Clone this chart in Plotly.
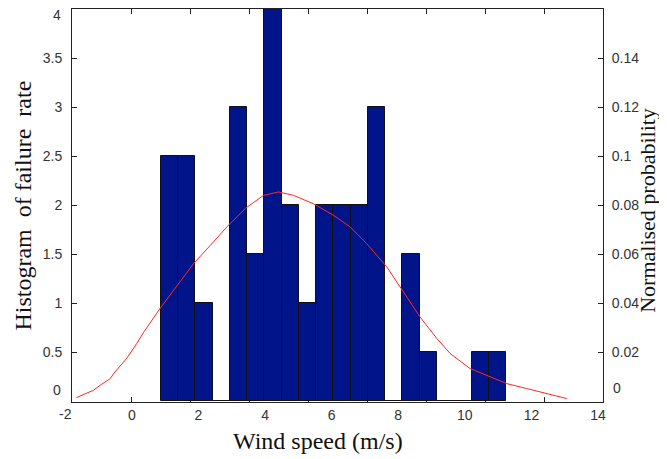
import plotly.graph_objects as go

# Histogram of failure rate (left axis)
bin_centers = [1.130, 1.648, 2.167, 2.685, 3.203, 3.722, 4.240, 4.758, 5.277, 5.795,
               6.313, 6.831, 7.350, 7.868, 8.386, 8.905, 9.423, 9.941, 10.460, 10.978]
failure_rate = [2.5, 2.5, 1, 0, 3, 1.5, 4, 2, 1, 2,
                2, 2, 3, 0, 1.5, 0.5, 0, 0, 0.5, 0.5]
bin_width = 0.5183

# Normalised probability curve (right axis, second x-scale)
curve_x = [-1.85, -1.49, -1.27, -1.04, -0.70, -0.59, -0.14, 0.20, 0.43, 1.02, 1.56, 2.12,
           2.69, 3.25, 3.87, 4.49, 5.00, 5.51, 6.18, 6.86, 7.43, 7.99, 8.67, 9.12, 9.80,
           10.37, 10.82, 11.49, 12.17, 12.74, 13.41, 13.98, 14.77]
curve_y = [0.0014, 0.0033, 0.0044, 0.0065, 0.0092, 0.0112, 0.0175, 0.0236, 0.0281, 0.0384,
           0.0473, 0.0561, 0.0636, 0.0711, 0.0786, 0.0840, 0.0854, 0.0840, 0.0806, 0.0759,
           0.0711, 0.0643, 0.0548, 0.0466, 0.0343, 0.0255, 0.0194, 0.0133, 0.0098, 0.0071,
           0.0051, 0.0033, 0.0010]

x_tickvals = [0, 2, 4, 6, 8, 10, 12, 14]
x_ticktext = ["0", "2", "4", "6", "8", "10", "12", "14"]
x_outside_label = "-2"
x_outside_val = -2
y1_tickvals = [0, 0.5, 1, 1.5, 2, 2.5, 3, 3.5, 4]
y1_ticktext = ["0", "0.5", "1", "1.5", "2", "2.5", "3", "3.5", "4"]
y2_tickvals = [0, 0.02, 0.04, 0.06, 0.08, 0.10, 0.12, 0.14]
y2_ticktext = ["0", "0.02", "0.04", "0.06", "0.08", "0.1", "0.12", "0.14"]
x2_tickvals = [0, 2, 4, 6, 8, 10, 12, 14]

X_RANGE = [-1.8, 14.15]
Y1_RANGE = [-0.01, 4.0]
AX = "#222222"
LBL = dict(family="Liberation Sans, Arial, sans-serif", size=14, color="#333333")
SERIF = "Liberation Serif, Times New Roman, serif"

# end labels are nudged inside the frame (as in the original), the rest sit on the axes
y1_axis_text = [t if v not in (Y1_RANGE[0] + 0.01, Y1_RANGE[1]) else "" for v, t in zip(y1_tickvals, y1_ticktext)]
y2_axis_text = [t if v != 0 else "" for v, t in zip(y2_tickvals, y2_ticktext)]

fig = go.Figure()
fig.add_trace(go.Bar(x=bin_centers, y=failure_rate, width=bin_width,
                     marker=dict(color="rgb(2,20,137)", line=dict(color="#111111", width=1)),
                     xaxis="x", yaxis="y", showlegend=False))
fig.add_trace(go.Scatter(x=curve_x, y=curve_y, mode="lines",
                         line=dict(color="rgb(255,40,30)", width=1),
                         xaxis="x2", yaxis="y2", showlegend=False))

# page body has an 8px margin, so the figure is 8px smaller and shifted
fig.update_layout(
    width=659, height=451,
    margin=dict(l=64, r=64, t=1, b=57),
    paper_bgcolor="white", plot_bgcolor="white",
    bargap=0,
    xaxis=dict(range=X_RANGE, tickvals=x_tickvals, ticktext=x_ticktext, ticks="",
               showline=True, linecolor=AX, linewidth=1, showgrid=False, zeroline=False,
               tickfont=LBL, anchor="y"),
    xaxis2=dict(range=[-2, 16], tickvals=x2_tickvals, ticks="inside", ticklen=5,
                tickcolor=AX, showticklabels=False, overlaying="x", side="top",
                anchor="y2", showline=True, linecolor=AX, linewidth=1, mirror="ticks",
                showgrid=False, zeroline=False, layer="below traces"),
    yaxis=dict(range=[Y1_RANGE[0], Y1_RANGE[1] + 0.003], tickvals=y1_tickvals,
               ticktext=y1_axis_text, ticks="inside", ticklen=5, tickcolor=AX,
               showline=True, linecolor=AX, linewidth=1, showgrid=False, zeroline=False,
               tickfont=LBL, ticklabelstandoff=6),
    yaxis2=dict(range=[-0.0004, 0.16012], tickvals=y2_tickvals, ticktext=y2_axis_text,
                ticks="inside", ticklen=5, tickcolor=AX, overlaying="y", side="right",
                anchor="x2", showline=True, linecolor=AX, linewidth=1, showgrid=False,
                zeroline=False, tickfont=LBL, ticklabelstandoff=5),
)

# end tick labels
fig.add_annotation(text=y1_ticktext[0], xref="paper", x=0, xanchor="right", xshift=-9,
                   yref="y", y=y1_tickvals[0], yshift=11, showarrow=False, font=LBL)
fig.add_annotation(text=y1_ticktext[-1], xref="paper", x=0, xanchor="right", xshift=-9,
                   yref="y", y=y1_tickvals[-1], yshift=-6, showarrow=False, font=LBL)
fig.add_annotation(text=y2_ticktext[0], xref="paper", x=1, xanchor="left", xshift=8,
                   yref="y2", y=y2_tickvals[0], yshift=13, showarrow=False, font=LBL)

span = X_RANGE[1] - X_RANGE[0]
fig.add_annotation(text=x_outside_label, xref="paper", yref="paper",
                   x=(x_outside_val - X_RANGE[0]) / span, y=0, yanchor="top",
                   xanchor="center", yshift=-2, showarrow=False, font=LBL)
fig.add_annotation(text="Wind speed (m/s)", xref="paper", yref="paper", x=0.463, y=-0.098,
                   xanchor="center", yanchor="middle", showarrow=False,
                   font=dict(family=SERIF, size=24, color="#111111"))
fig.add_annotation(text="Histogram  of failure  rate", xref="paper", yref="paper",
                   x=-0.094, y=0.5, textangle=-90, xanchor="center", yanchor="middle",
                   showarrow=False, font=dict(family=SERIF, size=24, color="#111111"))
fig.add_annotation(text="Normalised probability", xref="paper", yref="paper",
                   x=1.084, y=0.488, textangle=-90, xanchor="center", yanchor="middle",
                   showarrow=False, font=dict(family=SERIF, size=22, color="#111111"))

fig.write_html("out.html")
